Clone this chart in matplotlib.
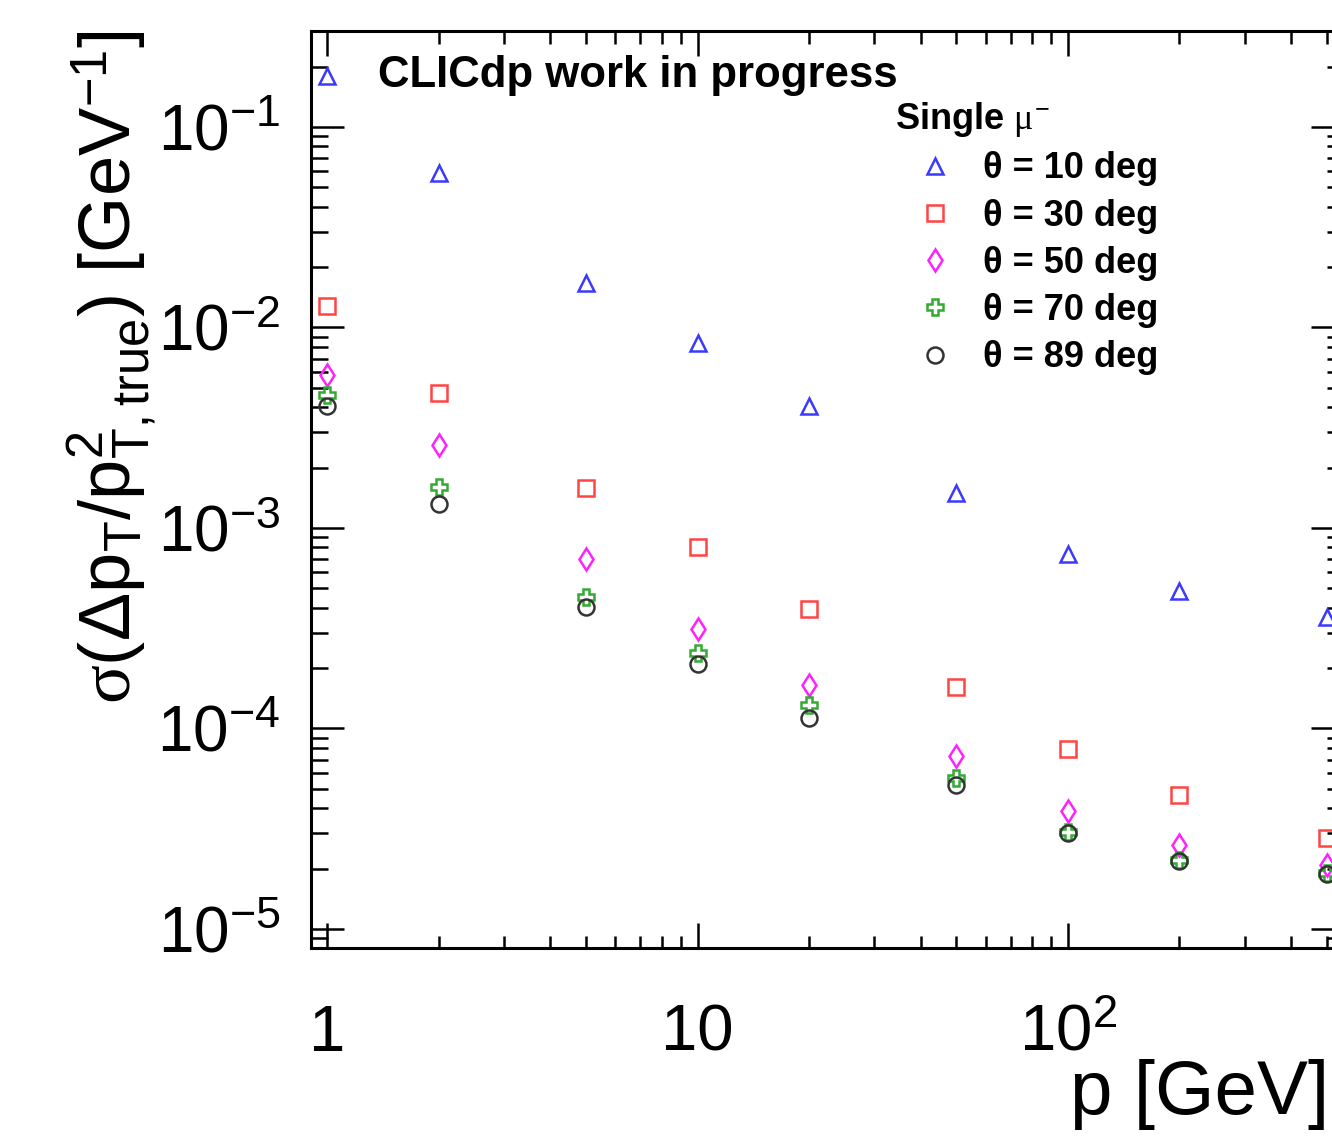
import numpy as np
import matplotlib
matplotlib.use('Agg')
import matplotlib.pyplot as plt
from matplotlib.ticker import LogLocator, NullFormatter, FixedLocator, FixedFormatter

plt.rcParams['font.family'] = ['Liberation Sans', 'DejaVu Sans']
plt.rcParams['mathtext.fontset'] = 'custom'
plt.rcParams['mathtext.rm'] = 'Liberation Sans'
plt.rcParams['mathtext.it'] = 'Liberation Serif'
plt.rcParams['mathtext.bf'] = 'Liberation Sans:bold'

# momentum points [GeV]
p_values = [1, 2, 5, 10, 20, 50, 100, 200, 500]

# resolution per polar angle
res_10deg = [0.1795, 0.0590, 0.01667, 0.00838, 0.00406, 0.001496, 7.41e-4, 4.85e-4, 3.60e-4]
res_30deg = [0.01279, 0.00471, 0.001585, 8.04e-4, 3.94e-4, 1.61e-4, 7.91e-5, 4.66e-5, 2.84e-5]
res_50deg = [5.80e-3, 2.59e-3, 7.00e-4, 3.13e-4, 1.65e-4, 7.30e-5, 3.88e-5, 2.62e-5, 2.08e-5]
res_70deg = [4.60e-3, 1.60e-3, 4.53e-4, 2.38e-4, 1.31e-4, 5.66e-5, 3.05e-5, 2.21e-5, 1.90e-5]
res_89deg = [4.06e-3, 1.32e-3, 4.04e-4, 2.10e-4, 1.13e-4, 5.22e-5, 3.00e-5, 2.18e-5, 1.88e-5]

labels = ["θ = 10 deg", "θ = 30 deg", "θ = 50 deg", "θ = 70 deg", "θ = 89 deg"]

x_ticks = [1, 10, 100]
x_tick_labels = ["1", "10", r"$\mathdefault{10^{2}}$"]

series = [res_10deg, res_30deg, res_50deg, res_70deg, res_89deg]
markers = ['^', 's', 'd', 'P', 'o']
colors = ['#3a3aff', '#ff4444', '#ff22ff', '#33aa33', '#333333']

fig = plt.figure(figsize=(13.32, 11.42), dpi=100)
ax = fig.add_axes([311 / 1332, 1 - 948 / 1142, (1344 - 311) / 1332, (948 - 31) / 1142])

for y, m, c, lab in zip(series, markers, colors, labels):
    ax.plot(p_values, y, linestyle='none', marker=m, ms=11.5, mfc='none',
            mec=c, mew=1.8, label=lab, clip_on=False)

ax.set_xscale('log')
ax.set_yscale('log')
ax.set_xlim(0.905, 556)
ax.set_ylim(8.04e-6, 0.301)

ax.xaxis.set_major_locator(FixedLocator(x_ticks))
ax.xaxis.set_major_formatter(FixedFormatter(x_tick_labels))
ax.xaxis.set_minor_locator(LogLocator(base=10, subs=np.arange(2, 10), numticks=20))
ax.xaxis.set_minor_formatter(NullFormatter())
ax.yaxis.set_minor_locator(LogLocator(base=10, subs=np.arange(2, 10), numticks=20))
ax.yaxis.set_minor_formatter(NullFormatter())

for s in ax.spines.values():
    s.set_linewidth(2.2)

ax.tick_params(axis='both', which='both', direction='in', top=True, right=True, width=1.8)
ax.tick_params(axis='x', which='major', length=18, pad=40, labelsize=47)
ax.tick_params(axis='x', which='minor', length=9)
ax.tick_params(axis='y', which='major', length=24, pad=22, labelsize=46)
ax.tick_params(axis='y', which='minor', length=12)

fig.text(112 / 1332, 1 - 367 / 1142,
         r"$\sigma\mathrm{(}\Delta\mathrm{p_{T}/p^{2}_{T,true})}$ [GeV$^{\mathrm{-1}}$]",
         rotation=90, ha='center', va='center', fontsize=52)
fig.text(1070 / 1332, 1 - 1095 / 1142, "p [GeV]", ha='left', va='center', fontsize=55)

fig.text(378 / 1332, 1 - 76 / 1142, "CLICdp work in progress",
         ha='left', va='center', fontsize=31.5, fontweight='bold')

leg = ax.legend(loc='upper left', bbox_to_anchor=(895 / 1332, 1 - 100 / 1142),
                bbox_transform=fig.transFigure, frameon=False, numpoints=1,
                title=r"Single $\mu^{-}$", alignment='left',
                prop={'size': 26, 'weight': 'bold'},
                title_fontproperties={'size': 26, 'weight': 'bold'},
                handlelength=2.2, handletextpad=0.25, labelspacing=0.34,
                borderpad=0, borderaxespad=0)

fig.savefig('out.png', dpi=100)
